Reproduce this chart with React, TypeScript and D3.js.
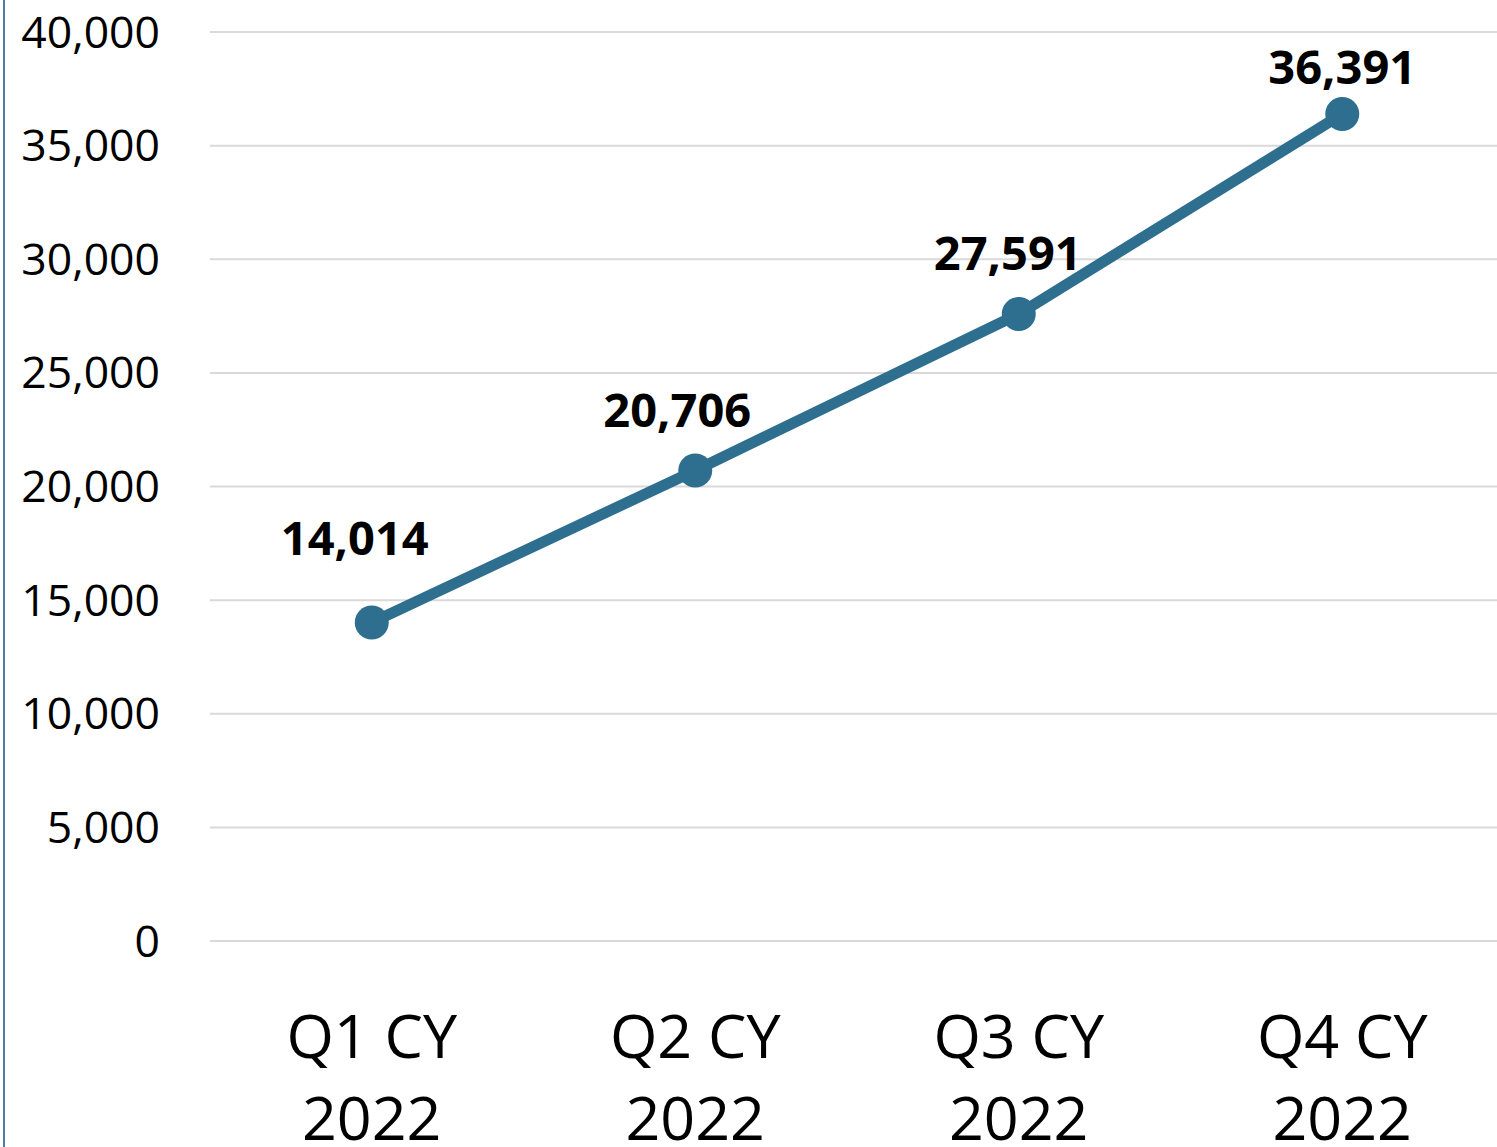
import React from "react";
import * as d3 from "d3";

const categories = ["Q1 CY|2022", "Q2 CY|2022", "Q3 CY|2022", "Q4 CY|2022"];
const values = [14014, 20706, 27591, 36391];
const yTicks = [0, 5000, 10000, 15000, 20000, 25000, 30000, 35000, 40000];
const labelShift = [
  { dx: -17, dy: -68 },
  { dx: -18, dy: -43 },
  { dx: -11, dy: -44 },
  { dx: 0, dy: -30 },
];

const W = 1497;
const H = 1147;
const FONT = "'Open Sans', 'Noto Sans', sans-serif";
const LINE = "#2E6E8E";

export default function App() {
  const x = d3.scaleBand<string>().domain(categories).range([210, 1504]);
  const y = d3.scaleLinear().domain([0, 40000]).range([941, 32]);
  const fmt = d3.format(",");
  const pts = values.map((v, i) => [x(categories[i])! + x.bandwidth() / 2, y(v)] as [number, number]);
  const line = d3.line();
  return (
    <svg width={W} height={H} style={{ position: "absolute", left: 0, top: 0, background: "#fff" }}>
      <rect x={0} y={0} width={W} height={H} fill="#fff" />
      <line x1={4} x2={4} y1={0} y2={H} stroke="#4A7EA5" strokeWidth={2} />
      {yTicks.map((t) => (
        <g key={t}>
          <line x1={210} x2={W} y1={y(t)} y2={y(t)} stroke="#d9d9d9" strokeWidth={2} />
          <text x={160} y={y(t)} dy="0.35em" textAnchor="end" fontFamily={FONT} fontSize={44.5} fill="#000">
            {fmt(t)}
          </text>
        </g>
      ))}
      {categories.map((c, i) => {
        const cx = x(c)! + x.bandwidth() / 2;
        const parts = c.split("|");
        return (
          <text key={c} textAnchor="middle" fontFamily={FONT} fontSize={61} fill="#000">
            <tspan x={cx} y={1058}>{parts[0]}</tspan>
            <tspan x={cx} y={1140}>{parts[1]}</tspan>
          </text>
        );
      })}
      <path d={line(pts) || ""} fill="none" stroke={LINE} strokeWidth={11} strokeLinejoin="round" />
      {pts.map((p, i) => (
        <circle key={i} cx={p[0]} cy={p[1]} r={17} fill={LINE} />
      ))}
      {pts.map((p, i) => (
        <text
          key={"l" + i}
          x={p[0] + labelShift[i].dx}
          y={p[1] + labelShift[i].dy}
          textAnchor="middle"
          fontFamily={FONT}
          fontWeight={700}
          fontSize={47}
          fill="#000"
        >
          {fmt(values[i])}
        </text>
      ))}
    </svg>
  );
}
